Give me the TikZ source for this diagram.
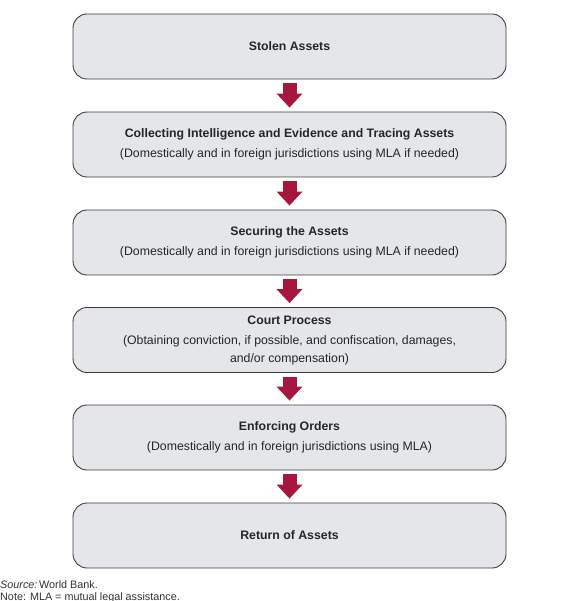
\documentclass[tikz,border=0pt]{standalone}
\usepackage{fontspec}
\setmainfont{Liberation Sans}
\usepackage{xcolor}
\usetikzlibrary{arrows.meta}
\definecolor{boxgray}{HTML}{E4E6EA}
\definecolor{linegray}{HTML}{3C3C3C}
\definecolor{wbred}{HTML}{A6173F}

\begin{document}
\begin{tikzpicture}[x=1pt,y=-1pt]
    \tikzstyle{stage}=[draw=linegray,line width=0.9pt,fill=boxgray,rounded corners=14pt,minimum width=433pt,minimum height=65pt,inner sep=0pt,align=center,text=black!85,font=\fontsize{12.3}{17.5}\selectfont]
    \tikzstyle{flow} = [draw=wbred,line width=14pt,-{Triangle[width=26pt,length=14pt,line width=0pt]},shorten <=4pt,shorten >=4pt]
    \tikzstyle{note} = [anchor=base west,inner sep=0pt,text=black!80,font=\fontsize{10.8}{12}\selectfont]

    \useasboundingbox (0,0) rectangle (576,601);

    \node[stage] (a) at (289.5, 46.5) {\textbf{Stolen Assets}};
    \node[stage] (b) at (289.5, 144.5) {\textbf{Collecting Intelligence and Evidence and Tracing Assets}\\[3pt]
        (Domestically and in foreign jurisdictions using MLA if needed)};
    \node[stage] (c) at (289.5, 242.5) {\textbf{Securing the Assets}\\[3pt]
        (Domestically and in foreign jurisdictions using MLA if needed)};
    \node[stage] (d) at (289.5, 340) {\textbf{Court Process}\\[3pt]
        (Obtaining conviction, if possible, and confiscation, damages,\\
        and/or compensation)};
    \node[stage] (e) at (289.5, 437.5) {\textbf{Enforcing Orders}\\[3pt]
        (Domestically and in foreign jurisdictions using MLA)};
    \node[stage] (f) at (289.5, 535.5) {\textbf{Return of Assets}};

    \path[flow] (a) -- (b);
    \path[flow] (b) -- (c);
    \path[flow] (c) -- (d);
    \path[flow] (d) -- (e);
    \path[flow] (e) -- (f);

    \node[note] (src) at (0, 588.3) {\textit{Source:}\,World Bank.};
    \node[note] (mla) at (0, 600) {Note: MLA = mutual legal assistance.};
\end{tikzpicture}
\end{document}
